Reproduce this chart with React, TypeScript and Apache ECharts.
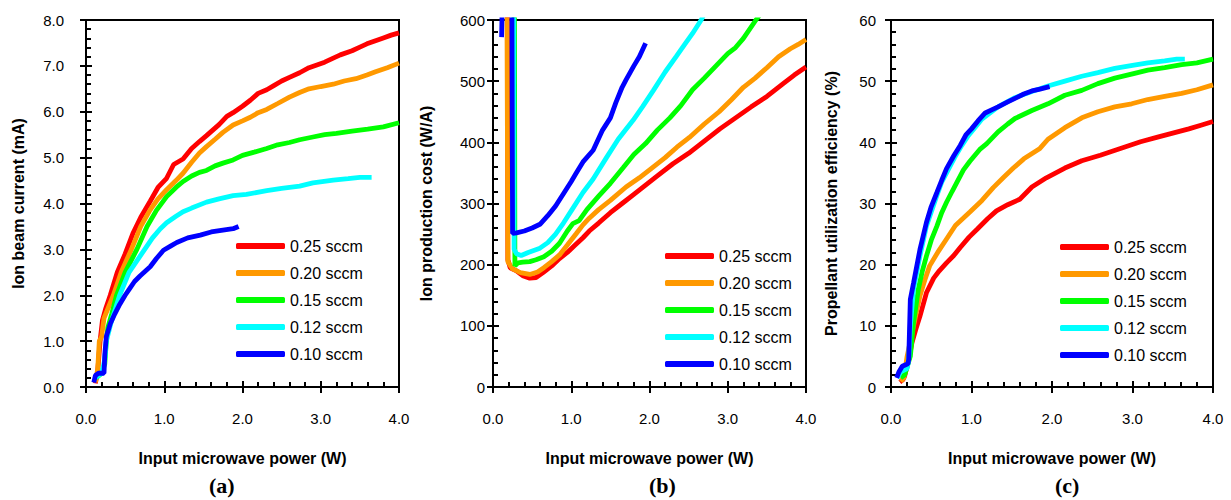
import React, { useEffect, useRef } from "react";
import * as echarts from "echarts";

const seriesNames = ["0.25 sccm", "0.20 sccm", "0.15 sccm", "0.12 sccm", "0.10 sccm"];
const seriesColors = ["#FF0000", "#FF9900", "#00FF00", "#00FFFF", "#0000FF"];
const panelLabels = ["(a)", "(b)", "(c)"];
const yTitles = ["Ion beam current (mA)", "Ion production cost (W/A)", "Propellant utilization efficiency (%)"];
const xTitle = "Input microwave power (W)";

// (a) Ion beam current (mA) vs input microwave power (W)
const beam025 = [[0.12,0.08],[0.15,0.35],[0.18,1.0],[0.21,1.45],[0.25,1.7],[0.31,2.0],[0.4,2.5],[0.5,2.9],[0.6,3.35],[0.7,3.7],[0.82,4.05],[0.92,4.35],[1.03,4.55],[1.12,4.85],[1.24,4.97],[1.35,5.2],[1.45,5.35],[1.54,5.48],[1.7,5.72],[1.8,5.9],[1.88,5.98],[2.0,6.12],[2.1,6.25],[2.2,6.4],[2.31,6.48],[2.4,6.57],[2.5,6.67],[2.6,6.75],[2.73,6.85],[2.85,6.96],[2.95,7.02],[3.05,7.08],[3.16,7.17],[3.25,7.24],[3.4,7.33],[3.5,7.41],[3.59,7.48],[3.7,7.55],[3.8,7.61],[3.9,7.67],[4.0,7.72]];
const beam020 = [[0.12,0.1],[0.15,0.4],[0.17,1.0],[0.2,1.1],[0.23,1.5],[0.35,2.0],[0.45,2.5],[0.58,3.0],[0.7,3.5],[0.82,3.86],[0.92,4.1],[1.03,4.3],[1.15,4.5],[1.24,4.66],[1.35,4.9],[1.45,5.1],[1.54,5.24],[1.65,5.4],[1.75,5.55],[1.88,5.71],[2.0,5.8],[2.1,5.88],[2.2,5.98],[2.31,6.05],[2.45,6.18],[2.6,6.32],[2.73,6.42],[2.85,6.5],[3.0,6.55],[3.16,6.6],[3.3,6.67],[3.45,6.72],[3.59,6.8],[3.7,6.87],[3.85,6.96],[4.0,7.06]];
const beam015 = [[0.13,0.2],[0.2,0.3],[0.24,0.5],[0.26,1.0],[0.28,1.3],[0.33,1.6],[0.39,2.0],[0.5,2.5],[0.65,3.0],[0.78,3.5],[0.9,3.85],[1.03,4.15],[1.15,4.35],[1.24,4.48],[1.35,4.6],[1.45,4.68],[1.54,4.72],[1.65,4.82],[1.75,4.88],[1.88,4.95],[2.0,5.05],[2.15,5.12],[2.31,5.2],[2.45,5.28],[2.6,5.33],[2.73,5.39],[2.9,5.45],[3.05,5.5],[3.2,5.53],[3.4,5.58],[3.6,5.62],[3.8,5.67],[4.0,5.76]];
const beam012 = [[0.12,0.2],[0.2,0.3],[0.24,0.6],[0.26,1.0],[0.32,1.4],[0.43,2.0],[0.55,2.5],[0.75,3.0],[0.85,3.25],[0.95,3.45],[1.03,3.58],[1.15,3.72],[1.24,3.82],[1.35,3.9],[1.54,4.03],[1.7,4.1],[1.88,4.17],[2.05,4.2],[2.31,4.28],[2.5,4.33],[2.73,4.38],[2.9,4.45],[3.16,4.51],[3.35,4.54],[3.5,4.57],[3.65,4.57]];
const beam010 = [[0.1,0.1],[0.12,0.25],[0.16,0.3],[0.23,0.3],[0.24,0.7],[0.26,1.1],[0.31,1.38],[0.37,1.6],[0.43,1.8],[0.5,2.0],[0.56,2.15],[0.62,2.3],[0.69,2.42],[0.82,2.62],[0.9,2.8],[0.99,2.98],[1.08,3.07],[1.16,3.15],[1.3,3.25],[1.46,3.31],[1.6,3.38],[1.75,3.42],[1.88,3.45],[1.95,3.5]];

// (b) Ion production cost (W/A)
const cost025 = [[0.18,900],[0.19,208],[0.22,195],[0.3,190],[0.38,182],[0.47,178],[0.55,179],[0.64,187],[0.75,198],[0.85,210],[0.95,220],[1.05,232],[1.15,244],[1.23,255],[1.35,268],[1.5,285],[1.65,300],[1.8,315],[1.95,330],[2.1,345],[2.3,365],[2.5,382],[2.7,402],[2.9,422],[3.1,440],[3.3,458],[3.5,475],[3.7,495],[3.85,510],[4.0,523]];
const cost020 = [[0.17,900],[0.19,205],[0.25,193],[0.35,187],[0.47,184],[0.57,188],[0.65,195],[0.75,205],[0.85,216],[0.95,232],[1.06,250],[1.15,265],[1.23,276],[1.35,290],[1.5,305],[1.7,327],[1.87,342],[2.05,360],[2.2,375],[2.35,392],[2.51,408],[2.7,430],[2.89,450],[3.05,470],[3.2,490],[3.35,505],[3.5,522],[3.65,540],[3.8,553],[3.9,560],[4.0,568]];
const cost015 = [[0.27,900],[0.28,198],[0.32,203],[0.38,204],[0.47,205],[0.55,208],[0.65,213],[0.75,222],[0.85,235],[0.95,255],[1.02,267],[1.1,272],[1.2,290],[1.35,312],[1.5,333],[1.66,358],[1.8,380],[1.95,398],[2.1,420],[2.26,440],[2.4,460],[2.55,486],[2.7,505],[2.85,525],[3.0,545],[3.1,555],[3.2,570],[3.36,600],[3.45,615]];
const cost012 = [[0.26,900],[0.27,225],[0.3,218],[0.36,215],[0.45,220],[0.6,227],[0.7,236],[0.8,250],[0.9,268],[1.02,292],[1.15,318],[1.28,340],[1.45,375],[1.6,405],[1.79,436],[1.91,458],[2.05,485],[2.2,515],[2.34,540],[2.45,560],[2.55,578],[2.66,600],[2.7,610]];
const cost010 = [[0.11,572],[0.12,640],[0.24,700],[0.25,251],[0.3,252],[0.4,255],[0.5,260],[0.6,266],[0.7,280],[0.8,296],[0.9,316],[1.0,336],[1.06,349],[1.15,368],[1.28,387],[1.4,420],[1.5,440],[1.57,465],[1.65,490],[1.7,502],[1.8,525],[1.87,540],[1.95,562]];

// (c) Propellant utilization efficiency (%)
const eff025 = [[0.11,0.8],[0.15,1.2],[0.17,1.8],[0.22,4.5],[0.26,7.2],[0.31,9.5],[0.36,11.6],[0.44,15.4],[0.53,17.8],[0.6,19.0],[0.69,20.3],[0.78,21.5],[0.86,22.8],[0.97,24.5],[1.07,25.8],[1.2,27.5],[1.31,28.8],[1.45,29.8],[1.6,30.7],[1.75,32.7],[1.93,34.2],[2.16,35.8],[2.37,37.0],[2.6,37.9],[2.85,39.0],[3.1,40.1],[3.3,40.8],[3.5,41.5],[3.7,42.2],[3.85,42.8],[4.0,43.4]];
const eff020 = [[0.12,0.9],[0.16,1.5],[0.2,5.0],[0.24,7.5],[0.28,10.0],[0.32,12.5],[0.36,14.9],[0.42,17.5],[0.48,19.8],[0.58,22.0],[0.69,24.2],[0.8,26.4],[0.98,28.6],[1.13,30.5],[1.27,32.6],[1.4,34.3],[1.52,35.8],[1.65,37.3],[1.85,39.0],[1.95,40.5],[2.16,42.4],[2.37,44.0],[2.57,45.0],[2.78,45.8],[2.99,46.3],[3.19,47.0],[3.4,47.5],[3.61,48.0],[3.8,48.6],[4.0,49.4]];
const eff015 = [[0.12,1.5],[0.17,2.0],[0.24,5.0],[0.28,10.5],[0.34,16.0],[0.39,19.0],[0.44,21.4],[0.5,24.0],[0.57,26.3],[0.63,28.5],[0.69,30.2],[0.76,32.0],[0.82,33.5],[0.9,35.5],[0.98,36.9],[1.1,38.8],[1.19,39.8],[1.33,41.7],[1.45,43.0],[1.54,43.9],[1.75,45.2],[1.95,46.3],[2.16,47.7],[2.37,48.5],[2.57,49.6],[2.78,50.5],[3.0,51.2],[3.19,51.8],[3.4,52.2],[3.61,52.7],[3.8,53.0],[4.0,53.6]];
const eff012 = [[0.08,1.5],[0.12,2.5],[0.2,3.0],[0.22,4.5],[0.24,10.0],[0.28,16.0],[0.36,21.5],[0.44,26.3],[0.5,28.6],[0.57,31.3],[0.63,33.5],[0.71,35.5],[0.79,37.5],[0.88,39.5],[0.96,41.1],[1.05,42.5],[1.13,43.8],[1.33,45.8],[1.54,47.3],[1.75,48.3],[1.95,49.2],[2.16,50.0],[2.37,50.8],[2.57,51.4],[2.78,52.1],[3.0,52.6],[3.19,53.0],[3.4,53.3],[3.55,53.6],[3.65,53.6]];
const eff010 = [[0.07,1.5],[0.1,2.5],[0.14,3.4],[0.21,3.8],[0.22,4.5],[0.24,14.3],[0.28,17.0],[0.36,22.5],[0.44,26.9],[0.5,29.5],[0.57,31.8],[0.63,33.8],[0.69,35.7],[0.78,37.8],[0.86,39.5],[0.93,41.2],[1.0,42.2],[1.08,43.5],[1.17,44.8],[1.25,45.3],[1.33,45.8],[1.45,46.6],[1.54,47.2],[1.65,47.9],[1.75,48.4],[1.85,48.7],[1.97,49.1]];

const panelData = [
  [beam025, beam020, beam015, beam012, beam010],
  [cost025, cost020, cost015, cost012, cost010],
  [eff025, eff020, eff015, eff012, eff010],
];
const yRanges = [
  { max: 8, interval: 1, fmt: (v: number) => v.toFixed(1) },
  { max: 600, interval: 100, fmt: (v: number) => String(v) },
  { max: 60, interval: 10, fmt: (v: number) => String(v) },
];

const FONT = "'Liberation Sans', Arial, sans-serif";

export default function App() {
  const ref = useRef<HTMLDivElement>(null);
  useEffect(() => {
    if (!ref.current) return;
    const chart = echarts.init(ref.current, undefined, { renderer: "svg" });
    const grids = [
      { left: 86, top: 20, width: 313, height: 367 },
      { left: 493, top: 20, width: 313, height: 367 },
      { left: 891, top: 20, width: 322, height: 367 },
    ];
    const yLabelMargins = [22, 8, 15];
    const yNameGaps = [60, 59, 52];
    const legendPos = [
      { left: 236, top: 235 },
      { left: 665, top: 245 },
      { left: 1060, top: 236 },
    ];
    const labelCenters = [223, 663, 1069];

    const xAxes: any[] = [];
    const yAxes: any[] = [];
    const series: any[] = [];
    grids.forEach((g, i) => {
      const yr = yRanges[i];
      // main axes: labels, names, inward major + minor ticks
      xAxes.push({
        type: "value", gridIndex: i, min: 0, max: 4, interval: 1, position: "bottom",
        name: xTitle,
        nameLocation: "middle",
        nameGap: 63,
        nameTextStyle: { fontFamily: FONT, fontWeight: "bold", fontSize: 16, color: "#000" },
        axisLine: { show: true, onZero: false, lineStyle: { color: "#000", width: 2 } },
        axisTick: { show: true, inside: true, length: 6, lineStyle: { color: "#000", width: 2 } },
        minorTick: { show: true, splitNumber: 5, length: 5, lineStyle: { color: "#000", width: 2 } },
        splitLine: { show: false },
        axisLabel: { margin: 24, fontFamily: FONT, fontSize: 15, color: "#000", formatter: (v: number) => v.toFixed(1) },
      });
      yAxes.push({
        type: "value", gridIndex: i, min: 0, max: yr.max, interval: yr.interval,
        name: yTitles[i],
        nameLocation: "middle",
        nameGap: yNameGaps[i],
        nameTextStyle: { fontFamily: FONT, fontWeight: "bold", fontSize: 16, color: "#000" },
        axisLine: { show: true, onZero: false, lineStyle: { color: "#000", width: 2 } },
        axisTick: { show: true, inside: true, length: 6, lineStyle: { color: "#000", width: 2 } },
        minorTick: { show: true, splitNumber: 5, length: 5, lineStyle: { color: "#000", width: 2 } },
        splitLine: { show: false },
        axisLabel: { margin: yLabelMargins[i], fontFamily: FONT, fontSize: 15, color: "#000", formatter: yr.fmt },
      });
      panelData[i].forEach((d, k) => {
        series.push({
          type: "line",
          name: seriesNames[k],
          xAxisIndex: 2 * i,
          yAxisIndex: 2 * i,
          data: d,
          showSymbol: false,
          symbol: "none",
          lineStyle: { color: seriesColors[k], width: 4.8 },
          itemStyle: { color: seriesColors[k] },
        });
      });
      // companion axes: outward major ticks
      xAxes.push({
        type: "value", gridIndex: i, min: 0, max: 4, interval: 1, position: "bottom",
        axisLine: { show: false, onZero: false },
        axisTick: { show: true, inside: false, length: 6, lineStyle: { color: "#000", width: 2 } },
        axisLabel: { show: false }, splitLine: { show: false },
      });
      yAxes.push({
        type: "value", gridIndex: i, min: 0, max: yr.max, interval: yr.interval, position: "left",
        axisLine: { show: false, onZero: false },
        axisTick: { show: true, inside: false, length: 6, lineStyle: { color: "#000", width: 2 } },
        axisLabel: { show: false }, splitLine: { show: false },
      });
    });

    const legends = legendPos.map((p) => ({
      show: true,
      orient: "vertical",
      left: p.left,
      top: p.top,
      padding: 0,
      itemWidth: 49,
      itemHeight: 6,
      itemGap: 5,
      icon: "roundRect",
      selectedMode: false,
      data: seriesNames.slice(),
      textStyle: { fontFamily: FONT, fontSize: 16, color: "#000", lineHeight: 22 },
    }));

    chart.setOption({
      animation: false,
      title: panelLabels.map((t, i) => ({
        text: t,
        left: labelCenters[i] - 14,
        top: 474,
        padding: 0,
        textStyle: { fontFamily: "'Liberation Serif', 'Times New Roman', serif", fontWeight: "bold", fontSize: 22, color: "#000" },
      })),
      grid: grids.map((g) => ({ ...g, show: true, borderColor: "#000", borderWidth: 2 })),
      xAxis: xAxes,
      yAxis: yAxes,
      legend: legends,
      series,
    });
    return () => chart.dispose();
  }, []);
  return <div ref={ref} style={{ position: "absolute", left: 0, top: 0, width: 1231, height: 500 }} />;
}
